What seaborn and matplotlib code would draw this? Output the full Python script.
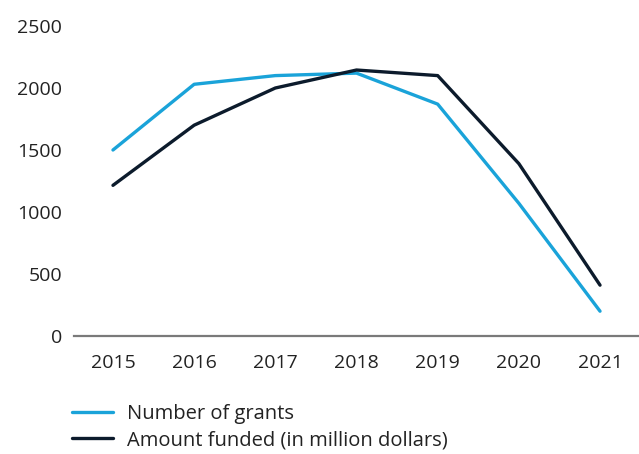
import matplotlib
matplotlib.use("Agg")
import matplotlib.pyplot as plt
import seaborn as sns
import pandas as pd
from matplotlib.lines import Line2D

years = [2015, 2016, 2017, 2018, 2019, 2020, 2021]
number_of_grants = [1500, 2030, 2100, 2120, 1870, 1070, 200]
amount_funded = [1215, 1700, 2000, 2145, 2100, 1390, 410]
series_names = ["Number of grants", "Amount funded (in million dollars)"]
y_ticks = [0, 500, 1000, 1500, 2000, 2500]

df = pd.DataFrame({
    "year": years * 2,
    "value": number_of_grants + amount_funded,
    "series": [series_names[0]] * len(years) + [series_names[1]] * len(years),
})

sns.set_style("white")
plt.rcParams["font.family"] = ["Open Sans", "DejaVu Sans"]

fig = plt.figure(figsize=(6.39, 4.54), dpi=100)
ax = fig.add_axes([74 / 639, (454 - 336) / 454, (639 - 74) / 639, 310 / 454])

palette = {series_names[0]: "#1aa3d9", series_names[1]: "#0c1b2c"}
sns.lineplot(data=df, x="year", y="value", hue="series", palette=palette,
             linewidth=2.4, ax=ax, legend=False, clip_on=False)

ax.set_xlim(2014.52, 2021.48)
ax.set_ylim(0, 2500)
ax.set_xticks(years)
ax.set_yticks(y_ticks)
ax.set_xlabel("")
ax.set_ylabel("")
ax.tick_params(axis="both", length=0, labelsize=14, colors="#222222")
ax.tick_params(axis="x", pad=13)
ax.tick_params(axis="y", pad=8.6)
for s in ["top", "right", "left"]:
    ax.spines[s].set_visible(False)
ax.spines["bottom"].set_color("#7a7a7a")
ax.spines["bottom"].set_linewidth(1.6)

handles = [Line2D([], [], color=palette[n], linewidth=2.4) for n in series_names]
fig.legend(handles, series_names, loc="upper left",
           bbox_to_anchor=(71.7 / 639, 1 - 404 / 454), frameon=False,
           borderpad=0, borderaxespad=0,
           fontsize=14.5, handlelength=2.04, handletextpad=0.7,
           labelspacing=0.32, labelcolor="#222222")

fig.savefig("out.png", dpi=100)
